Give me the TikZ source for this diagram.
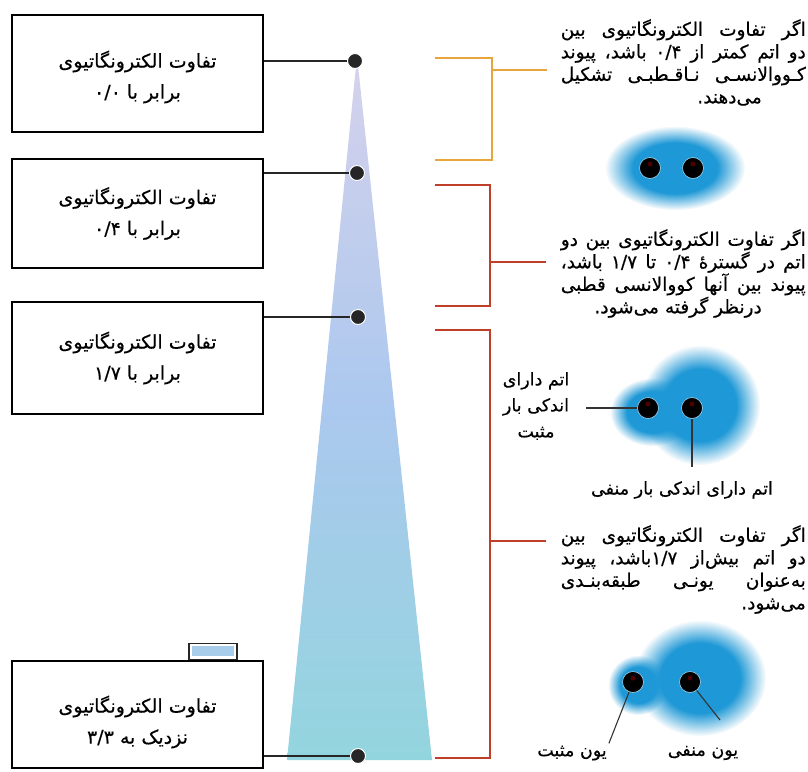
\documentclass[tikz,border=0pt]{standalone}
\usepackage{fontspec}
\newfontfamily\fafont[Script=Arabic,FakeBold=0.4]{DejaVu Sans}
\TeXXeTstate=1
\lineskiplimit=-20pt
\usetikzlibrary{fadings}
\definecolor{brkorange}{HTML}{E8A53B}
\definecolor{brkred}{HTML}{BF3F28}
\definecolor{cloudblue}{HTML}{1E98D6}
\definecolor{conetop}{HTML}{D6D2EC}
\definecolor{conemid}{HTML}{ABC8EE}
\definecolor{conebot}{HTML}{93D5DE}
\definecolor{tabblue}{HTML}{A8CDEB}
\newcommand{\fa}[1]{{\fafont\beginR #1\endR}}
\newcommand{\jline}[1]{\makebox[245pt][s]{\fa{#1}}}
\pgfdeclareradialshading{cloudshade}{\pgfpointorigin}{color(0bp)=(pgftransparent!0); color(15bp)=(pgftransparent!0); color(25bp)=(pgftransparent!100); color(50bp)=(pgftransparent!100)}
\pgfdeclarefading{cloudfade}{\pgfuseshading{cloudshade}}

\begin{document}
\begin{tikzpicture}[x=1pt,y=-1pt,
  ebox/.style={draw,line width=2pt,fill=white,minimum width=251,minimum height=112,align=center,font=\fafont\fontsize{19}{31}\selectfont},
  dot/.style={circle,fill=black!85,draw=white,line width=1pt,minimum size=15,inner sep=0},
  wire/.style={line width=1.8pt,black!85},
  brk/.style={line width=2.6pt},
  blk/.style={anchor=north east,align=right,inner sep=0,font=\fafont\fontsize{18.5}{22.5}\selectfont},
  lbl/.style={align=center,inner sep=2,font=\fafont\fontsize{17.5}{26}\selectfont},
  atom/.style={circle,fill=black,draw=white!60!cloudblue,line width=0.6pt,minimum size=21,inner sep=0,path picture={\fill[red!30!black] ([yshift=4pt]path picture bounding box.center) circle (2.5pt);}},
  tie/.style={line width=1.1pt,black!80},
  blob/.style={fill=cloudblue,path fading=cloudfade}]
\fill[white] (0,0) rectangle (808,771);
\useasboundingbox (0,0) rectangle (808,771);
\coordinate (cl) at (287,760); \coordinate (cr) at (432,760);
\shade[top color=conetop,bottom color=conebot,middle color=conemid] (357,56) -- (cr) -- (cl) -- cycle;
\node[ebox,minimum height=117] (b1) at (137.5,73.5) {\rule{0pt}{24pt}\fa{تفاوت الکترونگاتیوی}\\\fa{برابر با ۰/۰}};
\node[ebox,minimum height=109] (b2) at (137.5,213.5) {\fa{تفاوت الکترونگاتیوی}\\\fa{برابر با ۰/۴}};
\node[ebox] (b3) at (137.5,358) {\fa{تفاوت الکترونگاتیوی}\\\fa{برابر با ۱/۷}};
\node[ebox,minimum height=107] (b4) at (137.5,714.5) {\rule{0pt}{32pt}\fa{تفاوت الکترونگاتیوی}\\\fa{نزدیک به ۳/۳}};
\node[draw=black!85,line width=1.5pt,fill=white,minimum width=48,minimum height=16,inner sep=0,anchor=south,path picture={\fill[tabblue] ([shift={(3pt,-3pt)}]path picture bounding box.north west) rectangle ([shift={(-3pt,3pt)}]path picture bounding box.south east);}] (tab) at ([xshift=75.5pt]b4.north) {};
\foreach \n/\x/\y in {1/355/61,2/357/173,3/358/317,4/358/756}{\node[dot] (d\n) at (\x,\y) {};\draw[wire] (b\n.east |- d\n) -- (d\n);}
\draw[brk,brkorange] (435,58) -- (492,58) -- (492,160) -- (435,160) (492,70) -- (547,70);
\draw[brk,brkred] (435,185) -- (490,185) -- (490,306) -- (435,306) (490,262) -- (546,262);
\draw[brk,brkred] (435,330) -- (490,330) -- (490,758) -- (435,758) (490,541) -- (546,541);
\node[blk] (t1) at (806,19) {\jline{اگر تفاوت الکترونگاتیوی بین}\\\jline{دو اتم کمتر از ۰/۴ باشد، پیوند}\\\jline{کـووالانسـی نـاقـطبـی تشکیل}\\\fa{می^^^^200cدهند.}\hspace*{44pt}};
\node[blk] (t2) at (806,229) {\jline{اگر تفاوت الکترونگاتیوی بین دو}\\\jline{اتم در گسترهٔ ۰/۴ تا ۱/۷ باشد،}\\\jline{پیوند بین آنها کووالانسی قطبی}\\\fa{درنظر گرفته می^^^^200cشود.}\hspace*{44pt}};
\node[blk] (t3) at (806,525) {\jline{اگر تفاوت الکترونگاتیوی بین}\\\jline{دو اتم بیش^^^^200cاز ۱/۷باشد، پیوند}\\\jline{به^^^^200cعنوان یونـی طبقه^^^^200cبنـدی}\\\fa{می^^^^200cشود.}};
\fill[blob] (675,168) ellipse [x radius=70,y radius=42];
\fill[blob] (700,405) circle [radius=60]; \fill[blob] (652,412) ellipse [x radius=42,y radius=34];
\fill[blob] (700,678) ellipse [x radius=66,y radius=58]; \fill[blob] (638,685) circle [radius=30];
\node[atom] (a1) at (650,168) {}; \node[atom] (a2) at (693,168) {};
\node[atom] (a3) at (648,408) {}; \node[atom] (a4) at (692,408) {};
\node[atom] (a5) at (633,682) {}; \node[atom] (a6) at (690,682) {};
\node[lbl,inner xsep=16] (pos) at (536,406) {\fa{اتم دارای}\\\fa{اندکی بار}\\\fa{مثبت}};
\node[lbl] (neg) at (682,490) {\fa{اتم دارای اندکی بار منفی}};
\node[lbl] (ipos) at (572,753) {\fa{یون مثبت}};
\node[lbl] (ineg) at (703,753) {\fa{یون منفی}};
\coordinate (e6) at (720,720);
\draw[tie] (a3) -- (pos.east |- a3);
\draw[tie,shorten >=12pt] (a4) -- (a4 |- neg.north);
\draw[tie] (a5) -- (ipos.north east);
\draw[tie] (a6) -- (e6);
\end{tikzpicture}
\end{document}
